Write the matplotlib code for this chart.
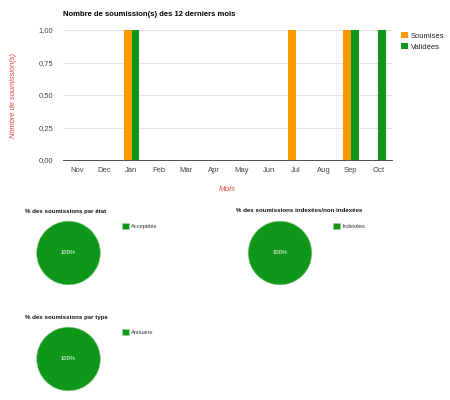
import numpy as np
import matplotlib
matplotlib.use("Agg")
import matplotlib.pyplot as plt

# ── Data ──────────────────────────────────────────────────────────────────────
MONTHS    = ["Nov", "Dec", "Jan", "Feb", "Mar", "Apr", "May", "Jun",
             "Jul", "Aug", "Sep", "Oct"]
SOUMISES  = [0, 0, 1, 0, 0, 0, 0, 0, 1, 0, 1, 0]
VALIDEES  = [0, 0, 1, 0, 0, 0, 0, 0, 0, 0, 1, 1]
Y_TICKS   = [0.0, 0.25, 0.5, 0.75, 1.0]

PIE_TITLES  = ["% des soumissions par état",
               "% des soumissions indexées/non indexées",
               "% des soumissions par type"]
PIE_LABELS  = ["Acceptées", "Indexées", "Annuaire"]
PIE_VALUES  = [[1], [1], [1]]
# ────────────────────────────────────────────────────────────────────────────────

ORANGE = "#ff9900"
GREEN  = "#109618"
W, H = 450, 400

plt.rcParams["font.family"] = ["Liberation Sans", "DejaVu Sans"]

fig = plt.figure(figsize=(W / 100, H / 100), dpi=100)


def px_axes(x0, y0, x1, y1):
    """Axes from pixel box (top-left origin)."""
    return fig.add_axes([x0 / W, 1 - y1 / H, (x1 - x0) / W, (y1 - y0) / H])


# bar chart
ax = px_axes(63, 30, 392, 160)
x = np.arange(len(MONTHS))
bw = 0.285
b1 = ax.bar(x - bw / 2, SOUMISES, bw, color=ORANGE, label="Soumises")
b2 = ax.bar(x + bw / 2, VALIDEES, bw, color=GREEN, label="Validées")
ax.set_xlim(-0.5, len(MONTHS) - 0.5)
ax.set_ylim(0, 1)
ax.set_xticks(x)
ax.set_xticklabels(MONTHS)
ax.set_yticks(Y_TICKS)
ax.set_yticklabels([f"{v:.2f}".replace(".", ",") for v in Y_TICKS])
ax.tick_params(length=0, labelsize=5.5, colors="#444444", pad=5)
ax.tick_params(axis="y", pad=7)
ax.grid(axis="y", color="#dddddd", linewidth=0.6)
ax.set_axisbelow(True)
for s in ["top", "right", "left"]:
    ax.spines[s].set_visible(False)
ax.spines["bottom"].set_color("#333333")
ax.spines["bottom"].set_linewidth(0.6)
ax.set_xlabel("Mois", fontsize=5.8, color="#e0423a", style="italic", labelpad=9)
ax.set_ylabel("Nombre de soumission(s)", fontsize=5.4, color="#e0423a",
              style="italic")
ax.yaxis.set_label_coords(-46 / 329, 0.5)
fig.text(63 / W, 1 - 14.5 / H, "Nombre de soumission(s) des 12 derniers mois",
         fontsize=5.5, fontweight="bold", va="center", ha="left", color="#000000")
ax.legend(handles=[b1, b2], loc="upper left", bbox_to_anchor=(398 / W, 1 - 29 / H),
          bbox_transform=fig.transFigure, frameon=False, fontsize=5.5,
          handlelength=0.9, handleheight=0.9, handletextpad=0.4,
          labelspacing=0.4, borderaxespad=0, labelcolor="#222222")

# pies: (center x, center y, title x, title y, legend x, legend y)
PIE_POS = [(68.5, 253, 25, 211, 120, 221),
           (280, 253, 236, 211, 331, 221),
           (68.5, 359, 25, 317, 120, 327)]
R = 32.5
for (cx, cy, tx, ty, lx, ly), title, label, vals in zip(
        PIE_POS, PIE_TITLES, PIE_LABELS, PIE_VALUES):
    pax = px_axes(cx - R, cy - R, cx + R, cy + R)
    wedges, _ = pax.pie(vals, colors=[GREEN], radius=1,
                        wedgeprops=dict(edgecolor="#9fd49f", linewidth=0.4))
    pax.text(0, 0, "100%", color="white", fontsize=4.2, ha="center", va="center")
    pax.set_xlim(-1.02, 1.02)
    pax.set_ylim(-1.02, 1.02)
    pax.set_aspect("equal")
    pax.axis("off")
    fig.text(tx / W, 1 - ty / H, title, fontsize=4.4, fontweight="bold",
             ha="left", va="center", color="#111111")
    pax.legend(wedges, [label], loc="upper left",
               bbox_to_anchor=(lx / W, 1 - ly / H), bbox_transform=fig.transFigure,
               frameon=False, fontsize=4.1, handlelength=1.1, handleheight=1.1,
               handletextpad=0.5, borderaxespad=0, labelcolor="#333333")

fig.savefig("out.png", dpi=100, facecolor="white")
